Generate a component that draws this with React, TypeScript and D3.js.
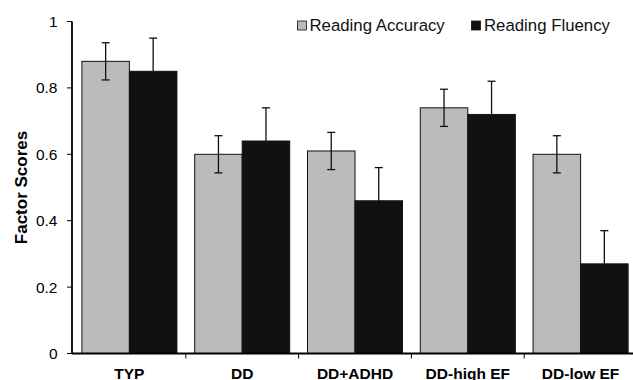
import React from "react";
import * as d3 from "d3";

const groups = ["TYP", "DD", "DD+ADHD", "DD-high EF", "DD-low EF"];
const seriesNames = ["Reading Accuracy", "Reading Fluency"];
const accuracy = [0.88, 0.6, 0.61, 0.74, 0.6];
const accuracyErr = [0.056, 0.056, 0.056, 0.056, 0.056];
const fluency = [0.85, 0.64, 0.46, 0.72, 0.27];
const fluencyErr = [0.1, 0.1, 0.1, 0.1, 0.1];
const yTicks = [0, 0.2, 0.4, 0.6, 0.8, 1];

const width = 633;
const height = 380;
const margin = { top: 21.5, left: 72, bottom: 26.5 };
const bandLeft = 73;
const bandRight = 637;
const colors = ["#bbbbbb", "#111111"];
const font = "'Liberation Sans', Arial, Helvetica, sans-serif";

// legend placement (square x, text x)
const legendPos = [
  { sx: 297.5, tx: 309.5 },
  { sx: 471.5, tx: 484 },
];

export default function App() {
  const x = d3.scaleBand().domain(groups).range([bandLeft, bandRight]).paddingInner(0).paddingOuter(0);
  const inner = d3.scaleBand().domain(seriesNames).range([0, x.bandwidth()]).paddingInner(0).paddingOuter(0.187);
  const y = d3.scaleLinear().domain([0, 1]).range([height - margin.bottom, margin.top]);
  const series = [
    { name: seriesNames[0], values: accuracy, errs: accuracyErr },
    { name: seriesNames[1], values: fluency, errs: fluencyErr },
  ];

  return (
    <svg width={width} height={height} style={{ position: "absolute", left: 0, top: 0, background: "#fff", fontFamily: font }}>
      {series.map((s, si) =>
        groups.map((g, gi) => {
          const bx = (x(g) as number) + (inner(s.name) as number);
          const bw = inner.bandwidth();
          return (
            <rect key={`${si}-${gi}`} x={bx} y={y(s.values[gi])} width={bw} height={y(0) - y(s.values[gi])}
              fill={colors[si]} stroke="#111" strokeWidth={1} />
          );
        })
      )}
      {series.map((s, si) =>
        groups.map((g, gi) => {
          const cx = (x(g) as number) + (inner(s.name) as number) + inner.bandwidth() / 2;
          const hi = y(s.values[gi] + s.errs[gi]);
          const lo = y(s.values[gi] - s.errs[gi]);
          return (
            <g key={`e${si}-${gi}`} stroke="#111" strokeWidth={1.3}>
              <line x1={cx} x2={cx} y1={hi} y2={lo} />
              <line x1={cx - 4} x2={cx + 4} y1={hi} y2={hi} />
              <line x1={cx - 4} x2={cx + 4} y1={lo} y2={lo} />
            </g>
          );
        })
      )}
      {/* y axis */}
      <line x1={margin.left} x2={margin.left} y1={y(1)} y2={y(0)} stroke="#000" strokeWidth={1.8} />
      {yTicks.map((t) => (
        <g key={t}>
          <line x1={margin.left - 5} x2={margin.left} y1={y(t)} y2={y(t)} stroke="#000" strokeWidth={1} />
          <text x={57.5} y={y(t)} dy="0.36em" textAnchor="end" fontSize={15.5} fill="#000">
            {d3.format("")(t)}
          </text>
        </g>
      ))}
      {/* x axis */}
      <line x1={margin.left} x2={width} y1={y(0)} y2={y(0)} stroke="#000" strokeWidth={1.8} />
      {groups.map((g, i) => (
        <g key={g}>
          {i > 0 && <line x1={x(g)} x2={x(g)} y1={y(0)} y2={y(0) + 5} stroke="#000" strokeWidth={1} />}
          <text x={(x(g) as number) + x.bandwidth() / 2} y={378.5} textAnchor="middle" fontSize={15.5} fontWeight="bold">
            {g}
          </text>
        </g>
      ))}
      <text transform={`translate(27,${(y(0) + y(1)) / 2}) rotate(-90)`} textAnchor="middle" fontSize={17} fontWeight="bold">
        Factor Scores
      </text>
      {/* legend */}
      {seriesNames.map((n, i) => (
        <g key={n}>
          <rect x={legendPos[i].sx} y={21} width={9} height={9} fill={colors[i]} stroke="#111" strokeWidth={0.8} />
          <text x={legendPos[i].tx} y={30.5} fontSize={16.8} fill="#111">
            {n}
          </text>
        </g>
      ))}
    </svg>
  );
}
